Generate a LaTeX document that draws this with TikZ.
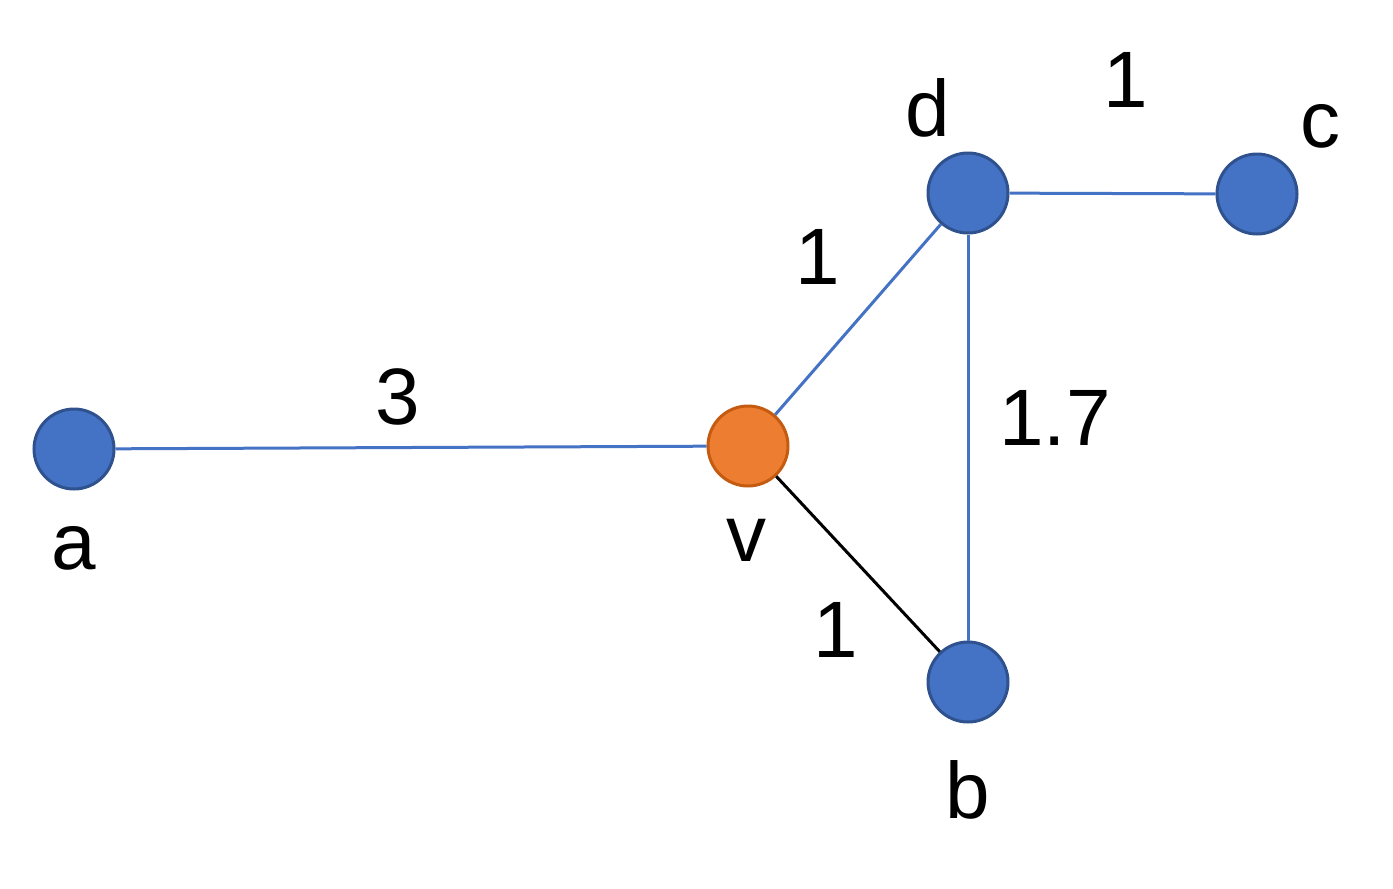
\documentclass[tikz,border=0pt]{standalone}
\usepackage{fontspec}
\setmainfont{Liberation Sans}
\definecolor{nodeblue}{HTML}{4472C4}
\definecolor{nodeblueborder}{HTML}{2F528F}
\definecolor{nodeorange}{HTML}{ED7D31}
\definecolor{nodeorangeborder}{HTML}{C55A11}
\begin{document}
\begin{tikzpicture}[x=1pt,y=-1pt,
  vtx/.style={circle,minimum size=80pt,inner sep=0pt,line width=3pt,fill=nodeblue,draw=nodeblueborder},
  vorange/.style={vtx,fill=nodeorange,draw=nodeorangeborder},
  edge/.style={line width=3pt,draw=nodeblue},
  blackedge/.style={line width=3pt,draw=black},
  lbl/.style={font=\fontsize{80}{96}\selectfont,inner sep=0pt}]
\useasboundingbox (0,0) rectangle (1393,889);
\node[vtx] (a) at (74,449) {};
\node[vorange] (v) at (748,446) {};
\node[vtx] (d) at (968,193) {};
\node[vtx] (c) at (1257,194) {};
\node[vtx] (b) at (968,682) {};
\draw[edge] (a) -- (v);
\draw[edge] (v) -- (d);
\draw[edge] (d) -- (c);
\draw[edge] (d) -- (b);
\draw[blackedge] (v) -- (b);
\node[lbl] (la) at (74,548) {a};
\node[lbl] (lv) at (746,540) {v};
\node[lbl] (ld) at (928,108) {d};
\node[lbl] (lc) at (1320,126) {c};
\node[lbl] (lb) at (968,790) {b};
\node[lbl] (w1) at (398,397) {3};
\node[lbl] (w2) at (818,257) {1};
\node[lbl] (w3) at (1126,80) {1};
\node[lbl] (w4) at (1055,418) {1.7};
\node[lbl] (w5) at (836,630) {1};
\end{tikzpicture}
\end{document}
